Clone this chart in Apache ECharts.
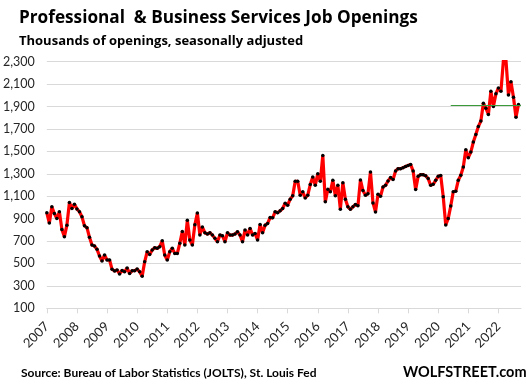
<!DOCTYPE html>
<html>
<head>
<meta charset="utf-8">
<script src="https://cdn.jsdelivr.net/npm/echarts@6/dist/echarts.min.js"></script>
<style>
html,body{margin:0;padding:0;background:#fff;}
#chart{width:526px;height:389px;}
</style>
</head>
<body>
<div id="chart"></div>
<script>
// Year tick labels
var yearLabels = ['2007','2008','2009','2010','2011','2012','2013','2014','2015','2016','2017','2018','2019','2020','2021','2022'];
// Monthly job openings (thousands, SA), Jan 2007 .. Sep 2022
var openings2007 = [952, 860, 1005, 946, 901, 961, 804, 739, 842, 1044, 990, 1029];
var openings2008 = [987, 961, 916, 836, 819, 733, 664, 656, 626, 567, 522, 576];
var openings2009 = [531, 531, 448, 433, 442, 407, 437, 425, 460, 410, 435, 435];
var openings2010 = [450, 425, 387, 515, 605, 580, 620, 640, 635, 650, 702, 575];
var openings2011 = [530, 605, 635, 590, 590, 680, 785, 665, 885, 710, 665, 845];
var openings2012 = [950, 755, 825, 774, 762, 774, 753, 724, 694, 753, 747, 694];
var openings2013 = [774, 753, 753, 762, 783, 753, 694, 798, 753, 813, 753, 768];
var openings2014 = [709, 848, 774, 842, 857, 910, 907, 961, 952, 970, 990, 1037];
var openings2015 = [1020, 1073, 1103, 1233, 1233, 1109, 1139, 1085, 1109, 1204, 1272, 1198];
var openings2016 = [1301, 1233, 1464, 1050, 1162, 1139, 1242, 1103, 1198, 984, 1221, 1073];
var openings2017 = [1005, 984, 1005, 1026, 1014, 1245, 1150, 1108, 1123, 1316, 1040, 960];
var openings2018 = [1117, 1099, 1182, 1197, 1236, 1266, 1248, 1325, 1346, 1346, 1355, 1366];
var openings2019 = [1375, 1384, 1325, 1159, 1277, 1292, 1292, 1283, 1257, 1197, 1206, 1242];
var openings2020 = [1277, 1285, 1096, 843, 902, 1012, 1140, 1145, 1242, 1287, 1361, 1515];
var openings2021 = [1444, 1494, 1583, 1651, 1722, 1770, 1930, 1885, 1829, 2036, 1900, 2013];
var openings2022 = [2066, 2036, 2315, 2315, 2004, 2122, 1983, 1805, 1918];
// Reference line level and its start month
var refLevel = 1910;
var refStartMonth = '2020-06';

var allOpenings = [].concat(openings2007, openings2008, openings2009, openings2010, openings2011,
  openings2012, openings2013, openings2014, openings2015, openings2016, openings2017,
  openings2018, openings2019, openings2020, openings2021, openings2022);

var months = [];
for (var y = 0; y < yearLabels.length; y++) {
  for (var m = 1; m <= 12; m++) {
    months.push(yearLabels[y] + '-' + (m < 10 ? '0' + m : '' + m));
  }
}
months = months.slice(0, allOpenings.length + 1); // one empty slot at the end
var seriesData = allOpenings.concat([null]);

var FONT = 'Lato';
var HEAD = 'Open Sans';
var chart = echarts.init(document.getElementById('chart'), null, {renderer: 'canvas'});
chart.setOption({
  animation: false,
  backgroundColor: '#ffffff',
  title: [
    {text: 'Professional  & Business Services Job Openings', left: 14, top: 5,
     textStyle: {fontFamily: HEAD, fontWeight: 'bold', fontSize: 17.2, color: '#000'}},
    {text: 'Thousands of openings, seasonally adjusted', left: 14, top: 30,
     textStyle: {fontFamily: HEAD, fontWeight: 'bold', fontSize: 13, color: '#000'}},
    {text: 'Source: Bureau of Labor Statistics (JOLTS), St. Louis Fed', left: 16, top: 362,
     textStyle: {fontFamily: FONT, fontWeight: 'bold', fontSize: 12, color: '#000'}},
    {text: 'WOLFSTREET.com', left: 398, top: 360,
     textStyle: {fontFamily: FONT, fontWeight: 'bold', fontSize: 14.5, color: '#000'}}
  ],
  grid: {left: 45.7, right: 5, top: 61.7, bottom: 80.7, containLabel: false},
  xAxis: {
    type: 'category',
    data: months,
    boundaryGap: false,
    axisLine: {show: true, lineStyle: {color: '#d9d9d9', width: 1}},
    axisTick: {show: true, length: 5, lineStyle: {color: '#d9d9d9'},
      interval: function (i) { return i % 12 === 0; }},
    axisLabel: {
      rotate: 45, margin: 16, fontFamily: FONT, fontSize: 13, color: '#262626',
      interval: function (i) { return i % 12 === 0; },
      formatter: function (v) { return v.slice(0, 4); }
    },
    splitLine: {show: false}
  },
  yAxis: {
    type: 'value',
    min: 100, max: 2300, interval: 200,
    axisLine: {show: false},
    axisTick: {show: false},
    axisLabel: {
      margin: 12, fontFamily: FONT, fontSize: 12.5, color: '#262626',
      formatter: function (v) { return v.toLocaleString('en-US'); }
    },
    splitLine: {lineStyle: {color: '#d9d9d9', width: 1}}
  },
  series: [{
    type: 'line',
    data: seriesData,
    symbol: 'circle',
    symbolSize: 3.5,
    showAllSymbol: true,
    itemStyle: {color: '#000000'},
    lineStyle: {color: '#ff0000', width: 3.2},
    z: 3,
    markLine: {
      silent: true,
      symbol: 'none',
      label: {show: false},
      lineStyle: {color: '#3a9a3a', width: 1, type: 'solid'},
      data: [[{coord: [refStartMonth, refLevel]}, {coord: [months[months.length - 1], refLevel]}]]
    }
  }]
});
</script>
</body>
</html>
